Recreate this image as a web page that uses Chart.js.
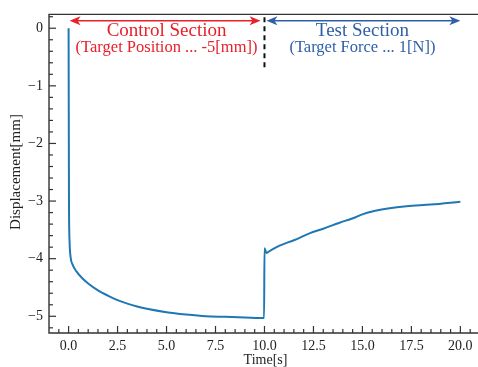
<!DOCTYPE html>
<html>
<head>
<meta charset="utf-8">
<script src="https://cdn.jsdelivr.net/npm/chart.js@4.4.1/dist/chart.umd.min.js"></script>
<style>
html,body{margin:0;padding:0;background:#fff;overflow:hidden;}
#wrap{width:478px;height:367px;position:relative;}
</style>
</head>
<body>
<div id="wrap"><canvas id="c" width="478" height="367"></canvas></div>
<script>
// Data
const timeS = [0, 0.02, 0.05, 0.1, 0.2, 0.4, 0.7, 1.0, 1.5, 2.0, 2.5, 3.0, 3.5, 4.0, 5.0, 6.0, 7.0, 8.0, 9.0, 9.98,
               10.0, 10.1, 10.3, 10.8, 11.5, 12.3, 13.0, 13.8, 14.65, 15.0, 15.5, 16.3, 17.25, 18.5, 20.0];
const displacementMm = [0, -3.0, -3.7, -3.97, -4.1, -4.22, -4.34, -4.43, -4.55, -4.64, -4.72, -4.78, -4.83, -4.87, -4.93, -4.97, -5.0, -5.01, -5.02, -5.03,
               -3.82, -3.9, -3.86, -3.77, -3.68, -3.56, -3.48, -3.38, -3.28, -3.23, -3.18, -3.13, -3.09, -3.06, -3.01];
const xTickValues = [0, 2.5, 5, 7.5, 10, 12.5, 15, 17.5, 20];
const yTickValues = [0, -1, -2, -3, -4, -5];
const sectionLabels = ["Control Section", "(Target Position ... -5[mm])", "Test Section", "(Target Force ... 1[N])"];
const axisTitles = ["Time[s]", "Displacement[mm]"];

const SERIF = '"Liberation Serif", "DejaVu Serif", serif';
const AXIS_COLOR = '#333';
const RED = '#e8202a';
const BLUE = '#2f5ea8';

const points = timeS.map((t, i) => ({x: t, y: displacementMm[i]}));

function fmtY(v){ return v < 0 ? '\u2212' + Math.abs(v) : String(v); }

function arrowHead(ctx, x, y, dir, color){
  ctx.save();
  ctx.fillStyle = color;
  ctx.beginPath();
  ctx.moveTo(x, y);
  ctx.lineTo(x - dir*11, y - 4.5);
  ctx.lineTo(x - dir*8, y);
  ctx.lineTo(x - dir*11, y + 4.5);
  ctx.closePath();
  ctx.fill();
  ctx.restore();
}

const decor = {
  id: 'decor',
  afterDraw(chart){
    const ctx = chart.ctx;
    const xs = chart.scales.x, ys = chart.scales.y;
    const a = chart.chartArea;
    ctx.save();
    ctx.fillStyle = '#fff';
    ctx.fillRect(a.right - 4, 0, 10, chart.height);
    // spines: left, bottom, top
    ctx.strokeStyle = AXIS_COLOR; ctx.lineWidth = 1.4;
    ctx.beginPath();
    ctx.moveTo(chart.width, a.top); ctx.lineTo(a.left, a.top);
    ctx.lineTo(a.left, a.bottom); ctx.lineTo(chart.width, a.bottom);
    ctx.stroke();
    // inward ticks, x
    ctx.lineWidth = 1.2;
    for (let v = -0.5; v <= 21; v += 0.5){
      const px = xs.getPixelForValue(v);
      if (px < a.left + 1 || px > a.right - 2) continue;
      const major = Math.abs(v/2.5 - Math.round(v/2.5)) < 1e-6;
      const len = major ? 7 : 4;
      ctx.beginPath(); ctx.moveTo(px, a.bottom); ctx.lineTo(px, a.bottom - len); ctx.stroke();
    }
    // inward ticks, y
    for (let k = -27; k <= 2; k++){
      const v = k*0.2;
      const py = ys.getPixelForValue(v);
      if (py < a.top + 1 || py > a.bottom - 1) continue;
      const major = k % 5 === 0;
      const len = major ? 7 : 4;
      ctx.beginPath(); ctx.moveTo(a.left, py); ctx.lineTo(a.left + len, py); ctx.stroke();
    }
    // dashed divider at t=10
    const xd = xs.getPixelForValue(10);
    ctx.strokeStyle = '#111'; ctx.lineWidth = 2; ctx.setLineDash([5, 4]);
    ctx.beginPath(); ctx.moveTo(xd, ys.getPixelForValue(0.19)); ctx.lineTo(xd, ys.getPixelForValue(-0.72)); ctx.stroke();
    ctx.setLineDash([]);
    // arrows
    const ya = ys.getPixelForValue(0.13);
    const r1 = xs.getPixelForValue(0.05), r2 = xs.getPixelForValue(9.8);
    ctx.strokeStyle = RED; ctx.lineWidth = 1.6;
    ctx.beginPath(); ctx.moveTo(r1 + 6, ya); ctx.lineTo(r2 - 6, ya); ctx.stroke();
    arrowHead(ctx, r1, ya, -1, RED); arrowHead(ctx, r2, ya, 1, RED);
    const b1 = xs.getPixelForValue(10.1), b2 = xs.getPixelForValue(20);
    ctx.strokeStyle = BLUE;
    ctx.beginPath(); ctx.moveTo(b1 + 6, ya); ctx.lineTo(b2 - 6, ya); ctx.stroke();
    arrowHead(ctx, b1, ya, -1, BLUE); arrowHead(ctx, b2, ya, 1, BLUE);
    // section texts
    ctx.textAlign = 'center'; ctx.textBaseline = 'middle';
    ctx.fillStyle = RED;
    ctx.font = '19px ' + SERIF;
    ctx.fillText(sectionLabels[0], xs.getPixelForValue(5), 31);
    ctx.font = '16.5px ' + SERIF;
    ctx.fillText(sectionLabels[1], xs.getPixelForValue(5), 48);
    ctx.fillStyle = BLUE;
    ctx.font = '19px ' + SERIF;
    ctx.fillText(sectionLabels[2], xs.getPixelForValue(15), 31);
    ctx.font = '16.5px ' + SERIF;
    ctx.fillText(sectionLabels[3], xs.getPixelForValue(15), 48);
    // axis titles
    ctx.fillStyle = '#222';
    ctx.font = '14px ' + SERIF;
    ctx.fillText(axisTitles[0], 265.5, 360);
    ctx.save();
    ctx.translate(16, 172);
    ctx.rotate(-Math.PI/2);
    ctx.font = '15px ' + SERIF;
    ctx.fillText(axisTitles[1], 0, 0);
    ctx.restore();
    ctx.restore();
  }
};

new Chart(document.getElementById('c'), {
  type: 'line',
  data: {
    datasets: [{
      data: points,
      borderColor: '#1f77b4',
      borderWidth: 2,
      pointRadius: 0,
      cubicInterpolationMode: 'monotone',
      fill: false
    }]
  },
  options: {
    responsive: false,
    animation: false,
    events: [],
    layout: {padding: {top: 12, right: 0, left: 0, bottom: 0}},
    plugins: {legend: {display: false}, tooltip: {enabled: false}},
    scales: {
      x: {
        type: 'linear',
        min: -1, max: 20.9,
        afterBuildTicks(s){ s.ticks = xTickValues.map(v => ({value: v})); },
        afterFit(s){ s.height = 34; },
        grid: {display: false, drawTicks: false},
        border: {display: false},
        ticks: {
          color: '#222', padding: 5, maxRotation: 0, autoSkip: false,
          font: {family: SERIF, size: 14},
          callback: v => Number(v).toFixed(1)
        },
        title: {display: false}
      },
      y: {
        type: 'linear',
        min: -5.29, max: 0.24,
        afterBuildTicks(s){ s.ticks = yTickValues.map(v => ({value: v})); },
        afterFit(s){ s.width = 49; },
        grid: {display: false, drawTicks: false},
        border: {display: false},
        ticks: {
          color: '#222', padding: 6, autoSkip: false,
          font: {family: SERIF, size: 14},
          callback: v => fmtY(v)
        },
        title: {display: false}
      }
    }
  },
  plugins: [decor]
});
</script>
</body>
</html>
